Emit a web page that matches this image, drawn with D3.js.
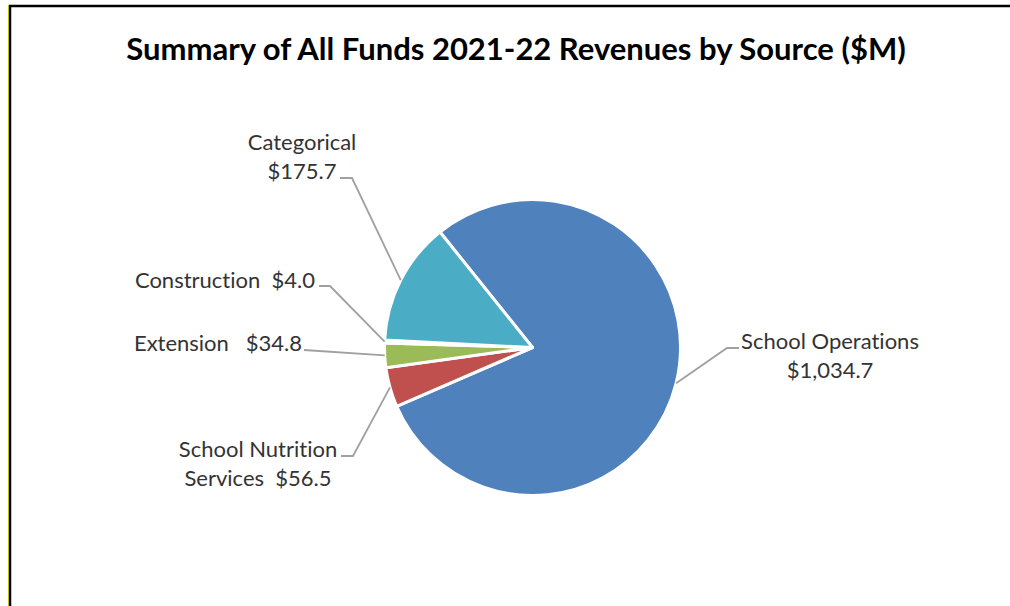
<!DOCTYPE html>
<html>
<head>
<meta charset="utf-8">
<script src="https://cdn.jsdelivr.net/npm/d3@7"></script>
<style>
  html, body { margin: 0; padding: 0; background: #fff; }
  text { font-family: Lato, "Open Sans", sans-serif; font-variant-ligatures: none; font-feature-settings: "liga" 0; }
</style>
</head>
<body>
<div class="canvas"></div>
<script>
// data (in $M)
const sources = ['School Operations', 'School Nutrition Services', 'Extension', 'Construction', 'Categorical'];
const revenues = [1034.7, 56.5, 34.8, 4.0, 175.7];
const labelLines = [
  ['School Operations', '$1,034.7'],
  ['School Nutrition', 'Services  $56.5'],
  ['Extension   $34.8'],
  ['Construction  $4.0'],
  ['Categorical', '$175.7']
];
const sliceColors = ['#4F81BD', '#C0504D', '#9BBB59', '#8064A2', '#4BACC6'];

// label placement (Excel-style manually moved labels)
// x,y = text anchor of first line, elbow = where the leader line leaves the label
const labelLayout = [
  {x: 830, y: 349, anchor: 'middle', elbow: [[739, 348], [727, 348]]},
  {x: 258, y: 457, anchor: 'middle', elbow: [[341, 456], [353, 456]]},
  {x: 302, y: 351, anchor: 'end',    elbow: [[304, 350]]},
  {x: 315, y: 288, anchor: 'end',    elbow: [[319, 286], [330, 286]]},
  {x: 302, y: 150, anchor: 'middle', elbow: [[340, 178], [352, 178]]}
];

const dims = {width: 1010, height: 606, radius: 148};
const cent = {x: 532.5, y: 347.5};
const firstSliceAngle = -38.7 * Math.PI / 180;

const svg = d3.select('.canvas')
  .append('svg')
  .attr('width', dims.width)
  .attr('height', dims.height);

// chart frame (only top + left edges show in the crop)
svg.append('line')
  .attr('x1', 8.5).attr('y1', 5).attr('x2', 8.5).attr('y2', dims.height)
  .attr('stroke', '#ffff00').attr('stroke-width', 1);
svg.append('path')
  .attr('d', `M10,${dims.height} V6 H${dims.width}`)
  .attr('fill', 'none')
  .attr('stroke', '#000')
  .attr('stroke-width', 2.5);

svg.append('text')
  .attr('x', 516)
  .attr('y', 60)
  .attr('text-anchor', 'middle')
  .attr('font-size', 31)
  .attr('font-weight', 'bold')
  .attr('fill', '#000')
  .text('Summary of All Funds 2021-22 Revenues by Source ($M)');

const pie = d3.pie()
  .sort(null)
  .startAngle(firstSliceAngle)
  .endAngle(firstSliceAngle + 2 * Math.PI)
  .value(d => d);

const arcPath = d3.arc()
  .outerRadius(dims.radius)
  .innerRadius(0);

// zero-width arc on the rim -> point where leader lines touch the slice
const rimArc = d3.arc()
  .outerRadius(dims.radius)
  .innerRadius(dims.radius);

const graph = svg.append('g')
  .attr('transform', `translate(${cent.x},${cent.y})`);

const slices = pie(revenues);

graph.selectAll('path.arc')
  .data(slices)
  .enter().append('path')
  .attr('class', 'arc')
  .attr('d', arcPath)
  .attr('fill', (d, i) => sliceColors[i])
  .attr('stroke', '#fff')
  .attr('stroke-width', 3)
  .attr('stroke-linejoin', 'round');

// leader lines
const line = d3.line();
svg.selectAll('path.leader')
  .data(slices)
  .enter().append('path')
  .attr('class', 'leader')
  .attr('d', (d, i) => {
    const c = rimArc.centroid(d);
    const pts = labelLayout[i].elbow.concat([[c[0] + cent.x, c[1] + cent.y]]);
    return line(pts);
  })
  .attr('fill', 'none')
  .attr('stroke', '#A0A0A0')
  .attr('stroke-width', 1.8);

// labels
const labels = svg.selectAll('text.label')
  .data(slices)
  .enter().append('text')
  .attr('class', 'label')
  .attr('x', (d, i) => labelLayout[i].x)
  .attr('y', (d, i) => labelLayout[i].y)
  .attr('text-anchor', (d, i) => labelLayout[i].anchor)
  .attr('font-size', 22)
  .attr('fill', '#333')
  .style('white-space', 'pre');

labels.selectAll('tspan')
  .data((d, i) => labelLines[i].map(t => ({t, x: labelLayout[i].x})))
  .enter().append('tspan')
  .attr('x', d => d.x)
  .attr('dy', (d, j) => j === 0 ? 0 : 29)
  .text(d => d.t);
</script>
</body>
</html>
